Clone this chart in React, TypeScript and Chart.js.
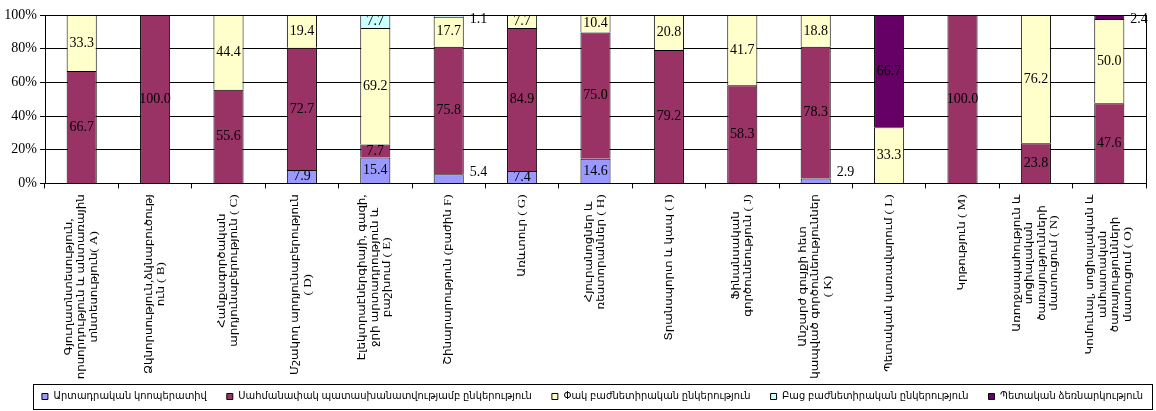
import React, { useEffect, useRef } from "react";
import { Chart, registerables } from "chart.js";

Chart.register(...registerables);

const categoryLines: string[][] = [
  ["Գյուղատնտեսություն,", "որսորդություն և անտառային", "տնտեսություն( A)"],
  ["Ձկնորսություն,ձկնաբուծությ", "ուն ( B)"],
  ["Հանքագործական", "արդյունաբերություն ( C)"],
  ["Մշակող արդյունաբերություն", "( D)"],
  ["Էլեկտրաէներգիայի, գազի,", "ջրի արտադրություն և", "բաշխում ( E)"],
  ["Շինարարություն (բաժին F)"],
  ["Առևտուր ( G)"],
  ["Հյուրանոցներ և", "ռեստորաններ ( H)"],
  ["Տրանսպորտ և կապ ( I)"],
  ["Ֆինանսական", "գործունեություն ( J)"],
  ["Անշարժ գույքի հետ", "կապված գործունեություններ", "( K)"],
  ["Պետական կառավարում ( L)"],
  ["Կրթություն ( M)"],
  ["Առողջապահություն և", "սոցիալական", "ծառայությունների", "մատուցում ( N)"],
  ["Կոմունալ, սոցիալական և", "անհատական", "ծառայությունների", "մատուցում ( O)"],
];

const seriesNames = [
  "Արտադրական կոոպերատիվ",
  "Սահմանափակ պատասխանատվությամբ ընկերություն",
  "Փակ բաժնետիրական ընկերություն",
  "Բաց բաժնետիրական ընկերություն",
  "Պետական ձեռնարկություն",
];

const cooperative = [0, 0, 0, 7.9, 15.4, 5.4, 7.4, 14.6, 0, 0, 2.9, 0, 0, 0, 0];
const limitedLiability = [66.7, 100, 55.6, 72.7, 7.7, 75.8, 84.9, 75.0, 79.2, 58.3, 78.3, 0, 100, 23.8, 47.6];
const closedJointStock = [33.3, 0, 44.4, 19.4, 69.2, 17.7, 7.7, 10.4, 20.8, 41.7, 18.8, 33.3, 0, 76.2, 50.0];
const openJointStock = [0, 0, 0, 0, 7.7, 1.1, 0, 0, 0, 0, 0, 0, 0, 0, 0];
const stateEnterprise = [0, 0, 0, 0, 0, 0, 0, 0, 0, 0, 0, 66.7, 0, 0, 2.4];

const seriesColors = ["#9999FF", "#993366", "#FFFFCC", "#CCFFFF", "#660066"];
const yTickValues = [0, 20, 40, 60, 80, 100];

const SERIF = '"Liberation Serif", "Times New Roman", "DejaVu Serif", serif';
const ARM = '"Liberation Serif", "DejaVu Sans Condensed", "DejaVu Sans", serif';
const LEGEND_PAD = 20;

const valueLabelPlugin = {
  id: "valueLabels",
  afterDatasetsDraw(chart: any) {
    const ctx = chart.ctx;
    const area = chart.chartArea;
    ctx.save();
    ctx.font = `14px ${SERIF}`;
    ctx.fillStyle = "#000";
    ctx.textBaseline = "middle";
    chart.data.datasets.forEach((ds: any, di: number) => {
      const meta = chart.getDatasetMeta(di);
      meta.data.forEach((bar: any, i: number) => {
        const v = ds.data[i];
        if (!v) return;
        const p = bar.getProps(["x", "y", "base", "width"], true);
        const mid = (p.y + p.base) / 2;
        const txt = v.toFixed(1);
        if (v >= 6) {
          ctx.textAlign = "center";
          ctx.fillText(txt, p.x, mid);
        } else {
          ctx.textAlign = "left";
          const yy = Math.min(Math.max(mid, area.top + 4), area.bottom - 11);
          ctx.fillText(txt, p.x + p.width / 2 + 6, yy);
        }
      });
    });
    ctx.restore();
  },
};

const xLabelPlugin = {
  id: "xLabels",
  afterDraw(chart: any) {
    const ctx = chart.ctx;
    const xs = chart.scales.x;
    const stretch = 1.19;
    const squeeze = 0.92;
    ctx.save();
    ctx.font = `11px ${ARM}`;
    ctx.fillStyle = "#000";
    ctx.textAlign = "center";
    ctx.textBaseline = "middle";
    const lineH = 12.5;
    categoryLines.forEach((lines, i) => {
      const cx = xs.getPixelForValue(i);
      const maxW = Math.max(...lines.map((l) => ctx.measureText(l).width)) * stretch;
      const top = xs.top + 11;
      const cy = top + maxW / 2;
      ctx.save();
      ctx.translate(cx, cy);
      ctx.rotate(-Math.PI / 2);
      ctx.scale(stretch, squeeze);
      lines.forEach((l, k) => {
        ctx.fillText(l, 0, ((k - (lines.length - 1) / 2) * lineH) / squeeze);
      });
      ctx.restore();
    });
    ctx.restore();
  },
};

const framePlugin = {
  id: "frame",
  beforeDraw(chart: any) {
    if (chart.legend) {
      chart.legend.right = 1143 + LEGEND_PAD;
    }
  },
  afterDraw(chart: any) {
    const ctx = chart.ctx;
    const a = chart.chartArea;
    ctx.save();
    ctx.strokeStyle = "#000";
    ctx.lineWidth = 1;
    ctx.strokeRect(Math.round(a.left) + 0.5, Math.round(a.top) + 0.5, Math.round(a.right - a.left), Math.round(a.bottom - a.top));
    const hb = chart.legend && chart.legend.legendHitBoxes;
    if (hb && hb.length) {
      const l = 33, r = chart.width - 4;
      const c = hb[0].top + hb[0].height / 2;
      ctx.strokeStyle = "#000";
      ctx.strokeRect(l + 0.5, Math.round(c - 13) + 0.5, r - l, 25);
    }
    ctx.restore();
  },
};

export default function App() {
  const ref = useRef<HTMLCanvasElement>(null);
  useEffect(() => {
    document.body.style.margin = "0";
    const values = [cooperative, limitedLiability, closedJointStock, openJointStock, stateEnterprise];
    const chart = new Chart(ref.current as HTMLCanvasElement, {
      type: "bar",
      data: {
        labels: categoryLines.map((l) => l.join(" ")),
        datasets: seriesNames.map((name, k) => ({
          label: name,
          data: values[k].map((v) => (v ? v : null)),
          backgroundColor: seriesColors[k],
          borderColor: "#000",
          borderWidth: 1,
          borderSkipped: "bottom",
          barPercentage: 0.41,
          categoryPercentage: 1,
        })),
      },
      options: {
        animation: false,
        responsive: true,
        maintainAspectRatio: false,
        layout: { padding: { top: 15, right: 10, bottom: -1, left: 0 } },
        plugins: {
          tooltip: { enabled: false },
          legend: {
            position: "bottom",
            align: "end",
            labels: {
              boxWidth: 6,
              boxHeight: 6,
              padding: LEGEND_PAD,
              color: "#000",
              font: { size: 11, family: ARM },
            },
          },
        },
        scales: {
          x: {
            stacked: true,
            grid: { offset: true, drawOnChartArea: false, drawTicks: true, tickLength: 5, color: "#000" },
            border: { display: true, color: "#000" },
            ticks: { display: false },
            afterFit: (s: any) => {
              s.height = 187.6;
            },
          },
          y: {
            stacked: true,
            min: 0,
            max: 100,
            afterBuildTicks: (s: any) => {
              s.ticks = yTickValues.map((v) => ({ value: v }));
            },
            grid: { color: "#000", tickLength: 5 },
            border: { display: true, color: "#000" },
            ticks: {
              color: "#000",
              font: { size: 14, family: SERIF },
              padding: 3,
              callback: (v: any) => `${v}%`,
            },
            afterFit: (s: any) => {
              s.width = 45;
            },
          },
        },
      },
      plugins: [valueLabelPlugin, xLabelPlugin, framePlugin],
    });
    return () => chart.destroy();
  }, []);
  return (
    <div style={{ width: "1156px", height: "411px", position: "relative" }}>
      <canvas ref={ref} />
    </div>
  );
}
